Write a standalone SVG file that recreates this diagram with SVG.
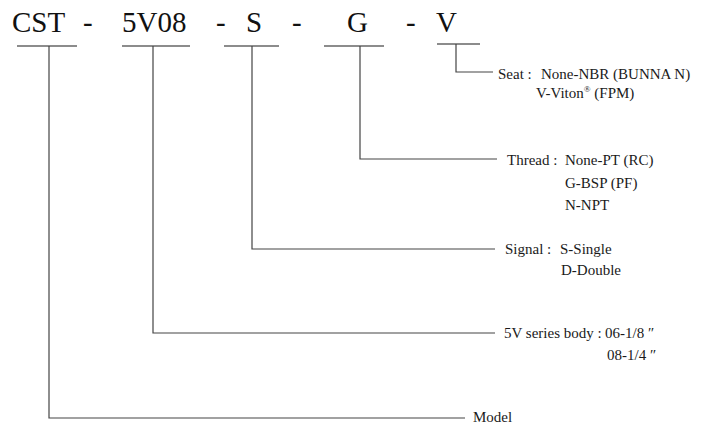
<svg xmlns="http://www.w3.org/2000/svg" width="703" height="426" viewBox="0 0 703 426">
<style>
.code{font-family:"Liberation Serif","Times New Roman",serif;font-size:29px;fill:#111}
.t{font-family:"Liberation Serif","Times New Roman",serif;font-size:15px;fill:#1a1a1a}
.ul{stroke:#666;stroke-width:1.3;fill:none}
.ln{stroke:#444;stroke-width:1.2;fill:none}
</style>
<rect width="703" height="426" fill="#fff"/>
<g id="code">
<text class="code" x="12" y="32">CST</text>
<text class="code" x="83" y="32">-</text>
<text class="code" x="122" y="32">5V08</text>
<text class="code" x="216" y="32">-</text>
<text class="code" x="246" y="32">S</text>
<text class="code" x="292" y="32">-</text>
<text class="code" x="347" y="32">G</text>
<text class="code" x="406" y="32">-</text>
<text class="code" x="436" y="32">V</text>
</g>
<g id="connectors">
<line class="ul" x1="17" y1="46" x2="77" y2="46"/>
<line class="ul" x1="122" y1="46" x2="190" y2="46"/>
<line class="ul" x1="224" y1="46" x2="279" y2="46"/>
<line class="ul" x1="324" y1="46" x2="384" y2="46"/>
<line class="ul" x1="437" y1="44" x2="480" y2="44"/>
<polyline class="ln" points="456,44 456,72 493,72"/>
<polyline class="ln" points="360,46 360,159 497,159"/>
<polyline class="ln" points="252,46 252,249 495,249"/>
<polyline class="ln" points="153,46 153,333 495,333"/>
<polyline class="ln" points="49,46 49,418 465,418"/>
</g>
<g id="seat">
<text class="t" x="498" y="79">Seat :</text>
<text class="t" x="541" y="79">None-NBR (BUNNA N)</text>
<text class="t" x="536" y="98">V-Viton<tspan font-size="9" dy="-6">®</tspan><tspan dy="6"> (FPM)</tspan></text>
</g>
<g id="thread">
<text class="t" x="507" y="165">Thread :</text>
<text class="t" x="565" y="165">None-PT (RC)</text>
<text class="t" x="565" y="188">G-BSP (PF)</text>
<text class="t" x="565" y="210">N-NPT</text>
</g>
<g id="signal">
<text class="t" x="505" y="254">Signal :</text>
<text class="t" x="560" y="254">S-Single</text>
<text class="t" x="561" y="275">D-Double</text>
</g>
<g id="body">
<text class="t" x="504" y="338">5V series body :</text>
<text class="t" x="605" y="338">06-1/8 ″</text>
<text class="t" x="607" y="360">08-1/4 ″</text>
</g>
<g id="model">
<text class="t" x="473" y="422">Model</text>
</g>
</svg>
